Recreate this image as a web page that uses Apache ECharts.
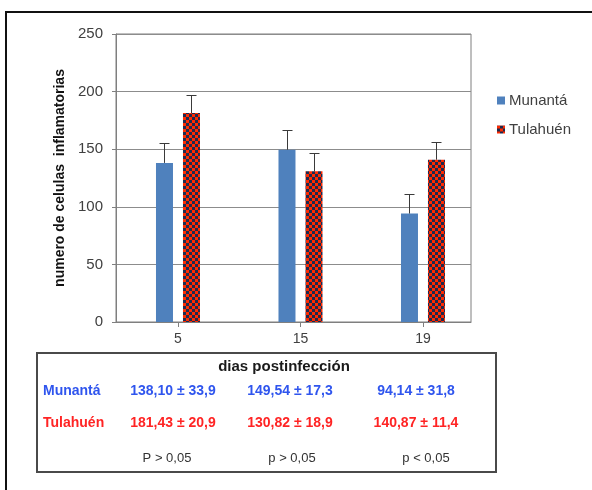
<!DOCTYPE html>
<html>
<head>
<meta charset="utf-8">
<script src="https://cdn.jsdelivr.net/npm/echarts@6/dist/echarts.min.js"></script>
<style>
  html, body { margin: 0; padding: 0; background: #fff; }
  #chart { width: 592px; height: 490px; }
</style>
</head>
<body>
<div id="chart"></div>
<script>
// Días postinfección y número medio de células inflamatorias por cepa
const categories = ['5', '15', '19'];
const seriesNames = ['Munantá', 'Tulahuén'];
const munanta = [138.10, 149.54, 94.14];
const tulahuen = [181.43, 130.82, 140.87];
// error bars (standard error of each series)
const munantaErr = [16.9, 16.9, 16.9];
const tulahuenErr = [15.5, 15.5, 15.5];
// table values (± desviación)
const munantaSd = [33.9, 17.3, 31.8];
const tulahuenSd = [20.9, 18.9, 11.4];
const pValues = ['P > 0,05', 'p > 0,05', 'p < 0,05'];
const tableTitle = 'dias postinfección';
const yAxisTitle = 'numero de celulas  inflamatorias';

const FONT = '"Liberation Sans", Arial, sans-serif';
const BLUE = '#4f81bd';
const TEXT_BLUE = '#2f55ee';
const TEXT_RED = '#ff2424';

// checkered fill for Tulahuén
function checker() {
  const c = document.createElement('canvas');
  c.width = 6; c.height = 6;
  const g = c.getContext('2d');
  g.fillStyle = '#ff2a00'; g.fillRect(0, 0, 6, 6);
  g.fillStyle = '#1e2a4e';
  g.fillRect(3, 0, 3, 3);
  g.fillRect(0, 3, 3, 3);
  return { image: c, repeat: 'repeat' };
}
const checkerFill = checker();

const fmt = (v, d) => v.toFixed(d).replace('.', ',');

const BAR_W = 17;
const HALF_SPAN = 13.5; // distance from category centre to each bar centre

function errorBars(values, errs, dx) {
  return {
    type: 'custom',
    z: 5,
    silent: true,
    data: values.map((v, i) => [i, v, errs[i]]),
    renderItem: function (params, api) {
      const base = api.coord([api.value(0), api.value(1)]);
      const top = api.coord([api.value(0), api.value(1) + api.value(2)]);
      const cx = Math.round(base[0] + dx) + 0.5;
      const ty = Math.round(top[1]) + 0.5;
      const st = { stroke: '#3a3a3a', lineWidth: 1 };
      return {
        type: 'group',
        children: [
          { type: 'line', shape: { x1: cx, y1: base[1], x2: cx, y2: ty }, style: st },
          { type: 'line', shape: { x1: cx - 5, y1: ty, x2: cx + 5, y2: ty }, style: st }
        ]
      };
    }
  };
}

// table below the plot
const colX = [173, 290, 416];
const pColX = [167, 292, 426];
const tableEls = [
  { type: 'rect', shape: { x: 37, y: 353, width: 459, height: 119 },
    style: { fill: 'none', stroke: '#4a4a4a', lineWidth: 2 } },
  { type: 'text', x: 284, y: 367,
    style: { text: tableTitle, font: 'bold 15px ' + FONT, fill: '#1a1a1a', align: 'center', verticalAlign: 'middle' } },
  { type: 'text', x: 43, y: 391,
    style: { text: seriesNames[0], font: 'bold 14px ' + FONT, fill: TEXT_BLUE, align: 'left', verticalAlign: 'middle' } },
  { type: 'text', x: 43, y: 423,
    style: { text: seriesNames[1], font: 'bold 14px ' + FONT, fill: TEXT_RED, align: 'left', verticalAlign: 'middle' } }
];
categories.forEach((c, i) => {
  tableEls.push({ type: 'text', x: colX[i], y: 391,
    style: { text: fmt(munanta[i], 2) + ' ± ' + fmt(munantaSd[i], 1), font: 'bold 14px ' + FONT,
      fill: TEXT_BLUE, align: 'center', verticalAlign: 'middle' } });
  tableEls.push({ type: 'text', x: colX[i], y: 423,
    style: { text: fmt(tulahuen[i], 2) + ' ± ' + fmt(tulahuenSd[i], 1), font: 'bold 14px ' + FONT,
      fill: TEXT_RED, align: 'center', verticalAlign: 'middle' } });
  tableEls.push({ type: 'text', x: pColX[i], y: 458,
    style: { text: pValues[i], font: '13px ' + FONT, fill: '#333', align: 'center', verticalAlign: 'middle' } });
});

const chart = echarts.init(document.getElementById('chart'), null, { renderer: 'canvas' });
chart.setOption({
  animation: false,
  backgroundColor: '#fff',
  textStyle: { fontFamily: FONT },
  grid: {
    left: 116, top: 34, right: 121, bottom: 168,
    show: true, borderColor: '#7f7f7f', borderWidth: 1, backgroundColor: 'transparent'
  },
  legend: {
    orient: 'vertical',
    left: 492, top: 88,
    itemWidth: 8, itemHeight: 8, itemGap: 14,
    icon: 'rect',
    textStyle: { fontSize: 15, color: '#404040', padding: [0, 0, 0, -1] },
    data: seriesNames
  },
  xAxis: {
    type: 'value',
    min: -0.506, max: 2.392,
    splitLine: { show: false },
    axisLine: { show: true, onZero: false, lineStyle: { color: '#7f7f7f' } },
    axisTick: { show: true, length: 5, lineStyle: { color: '#7f7f7f' }, customValues: [0, 1, 2] },
    axisLabel: {
      customValues: [0, 1, 2],
      formatter: v => categories[Math.round(v)],
      fontSize: 14, color: '#404040', margin: 10
    }
  },
  yAxis: {
    type: 'value',
    min: 0, max: 250, interval: 50,
    name: yAxisTitle,
    nameLocation: 'middle',
    nameGap: 46,
    nameTextStyle: { fontSize: 14, fontWeight: 'bold', color: '#111' },
    axisLine: { show: true, onZero: false, lineStyle: { color: '#7f7f7f' } },
    axisTick: { show: true, length: 4, lineStyle: { color: '#7f7f7f' } },
    axisLabel: { fontSize: 15, color: '#404040', margin: 13 },
    splitLine: { lineStyle: { color: '#8c8c8c', width: 1 } }
  },
  series: [
    {
      name: seriesNames[0], type: 'bar',
      barWidth: BAR_W, barGap: ((2 * HALF_SPAN - BAR_W) / BAR_W * 100).toFixed(1) + '%',
      itemStyle: { color: BLUE },
      data: munanta.map((v, i) => [i, v])
    },
    {
      name: seriesNames[1], type: 'bar',
      barWidth: BAR_W,
      itemStyle: { color: checkerFill },
      data: tulahuen.map((v, i) => [i, v])
    },
    errorBars(munanta, munantaErr, -HALF_SPAN),
    errorBars(tulahuen, tulahuenErr, HALF_SPAN)
  ],
  graphic: [
    { type: 'rect', shape: { x: 6, y: 12, width: 600, height: 500 },
      style: { fill: 'none', stroke: '#111', lineWidth: 2 }, silent: true },
    ...tableEls
  ]
});
</script>
</body>
</html>
